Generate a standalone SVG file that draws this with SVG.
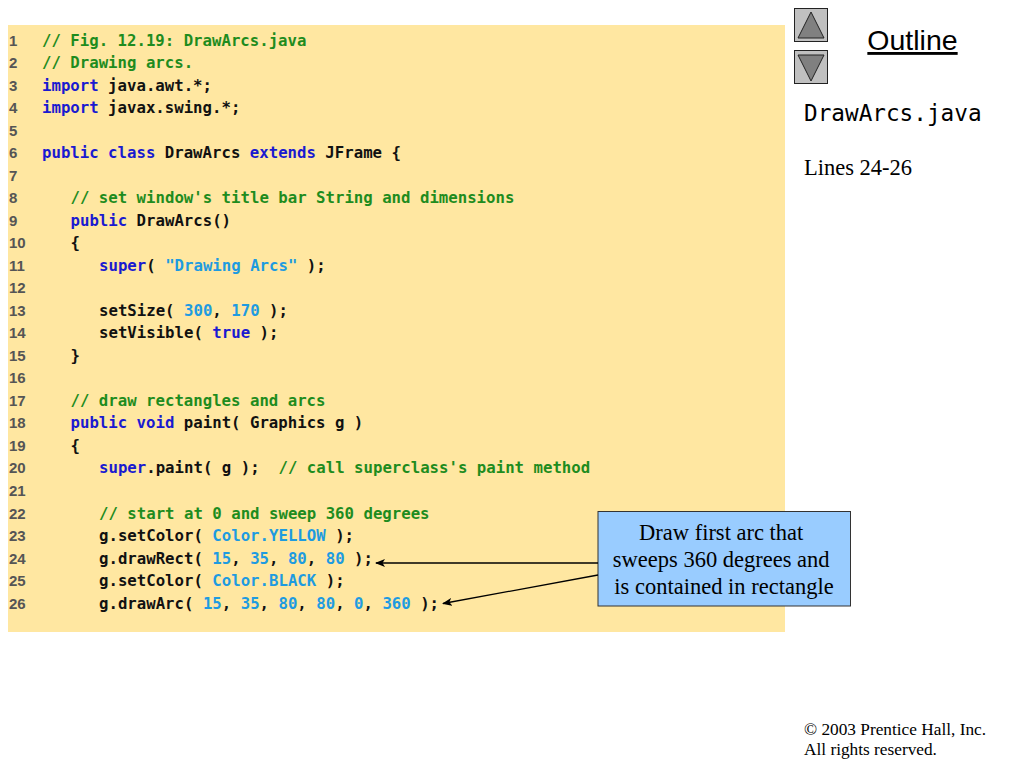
<svg xmlns="http://www.w3.org/2000/svg" width="1024" height="768" viewBox="0 0 1024 768">
<style>
.code{font-family:"DejaVu Sans Mono",monospace;font-size:15.7px;font-weight:bold;fill:#111}
.ln{font-family:"Liberation Sans",Arial,sans-serif;font-size:15px;font-weight:bold;fill:#555}
.c{fill:#1e8c1e}
.k{fill:#1a1ad0}
.n{fill:#1e9be0}
.serif{font-family:"Liberation Serif","Times New Roman",serif;fill:#000}
.btn{fill:#c0c0c0;stroke:#222;stroke-width:1}
.tri{fill:#808080;stroke:#222;stroke-width:1}
.conn{stroke:#000;stroke-width:1.3;fill:none;marker-end:url(#ah)}
</style>
<defs>
<marker id="ah" markerWidth="10" markerHeight="8" refX="9" refY="4" orient="auto" markerUnits="userSpaceOnUse">
<path d="M0,0 L10,4 L0,8 L2.5,4 Z" fill="#000"/>
</marker>
</defs>
<rect width="1024" height="768" fill="#fff"/>
<g id="code-panel">
<rect x="8" y="25" width="777" height="607" fill="#ffe7a1"/>
<g class="ln">
<text x="9" y="45.5">1</text>
<text x="9" y="68">2</text>
<text x="9" y="90.5">3</text>
<text x="9" y="113">4</text>
<text x="9" y="135.6">5</text>
<text x="9" y="158.1">6</text>
<text x="9" y="180.6">7</text>
<text x="9" y="203.1">8</text>
<text x="9" y="225.7">9</text>
<text x="9" y="248.2">10</text>
<text x="9" y="270.7">11</text>
<text x="9" y="293.2">12</text>
<text x="9" y="315.7">13</text>
<text x="9" y="338.3">14</text>
<text x="9" y="360.8">15</text>
<text x="9" y="383.3">16</text>
<text x="9" y="405.8">17</text>
<text x="9" y="428.4">18</text>
<text x="9" y="450.9">19</text>
<text x="9" y="473.4">20</text>
<text x="9" y="495.9">21</text>
<text x="9" y="518.5">22</text>
<text x="9" y="541">23</text>
<text x="9" y="563.5">24</text>
<text x="9" y="586">25</text>
<text x="9" y="608.5">26</text>
</g>
<g class="code">
<text x="42" y="45.5" class="c">// Fig. 12.19: DrawArcs.java</text>
<text x="42" y="68" class="c">// Drawing arcs.</text>
<text x="42" y="90.5"><tspan class="k">import</tspan> java.awt.*;</text>
<text x="42" y="113"><tspan class="k">import</tspan> javax.swing.*;</text>
<text x="42" y="158.1"><tspan class="k">public class</tspan> DrawArcs <tspan class="k">extends</tspan> JFrame {</text>
<text x="70.5" y="203.1" class="c">// set window's title bar String and dimensions</text>
<text x="70.5" y="225.7"><tspan class="k">public</tspan> DrawArcs()</text>
<text x="70.5" y="248.2">{</text>
<text x="99" y="270.7"><tspan class="k">super</tspan>( <tspan class="n">"Drawing Arcs"</tspan> );</text>
<text x="99" y="315.7">setSize( <tspan class="n">300</tspan>, <tspan class="n">170</tspan> );</text>
<text x="99" y="338.3">setVisible( <tspan class="k">true</tspan> );</text>
<text x="70.5" y="360.8">}</text>
<text x="70.5" y="405.8" class="c">// draw rectangles and arcs</text>
<text x="70.5" y="428.4"><tspan class="k">public void</tspan> paint( Graphics g )</text>
<text x="70.5" y="450.9">{</text>
<text x="99" y="473.4"><tspan class="k">super</tspan>.paint( g );<tspan class="c" x="278.5">// call superclass's paint method</tspan></text>
<text x="99" y="518.5" class="c">// start at 0 and sweep 360 degrees</text>
<text x="99" y="541">g.setColor( <tspan class="n">Color.YELLOW</tspan> );</text>
<text x="99" y="563.5">g.drawRect( <tspan class="n">15</tspan>, <tspan class="n">35</tspan>, <tspan class="n">80</tspan>, <tspan class="n">80</tspan> );</text>
<text x="99" y="586">g.setColor( <tspan class="n">Color.BLACK</tspan> );</text>
<text x="99" y="608.5">g.drawArc( <tspan class="n">15</tspan>, <tspan class="n">35</tspan>, <tspan class="n">80</tspan>, <tspan class="n">80</tspan>, <tspan class="n">0</tspan>, <tspan class="n">360</tspan> );</text>
</g>
</g>
<g id="nav-up">
<rect class="btn" x="794.5" y="8.5" width="33" height="33"/>
<polygon class="tri" points="811,12 824,38 798,38"/>
</g>
<g id="nav-down">
<rect class="btn" x="794.5" y="50.5" width="33" height="33"/>
<polygon class="tri" points="798,55 824,55 811,81"/>
</g>
<g id="outline-title">
<text x="912.5" y="50" text-anchor="middle" font-family="Liberation Sans,Arial,sans-serif" font-size="28.5" fill="#000" text-decoration="underline">Outline</text>
</g>
<g id="file-label">
<text x="804" y="121" font-family="DejaVu Sans Mono,monospace" font-size="22.7" fill="#000">DrawArcs.java</text>
</g>
<g id="lines-label">
<text x="804" y="175" class="serif" font-size="22.5">Lines 24-26</text>
</g>
<g id="callout">
<rect x="598" y="511.5" width="252.5" height="94.5" fill="#99ccff" stroke="#333" stroke-width="1"/>
<text class="serif" font-size="22.5" text-anchor="middle">
<tspan x="724" y="539.5">Draw first arc that</tspan>
<tspan x="724" y="566.5">sweeps 360 degrees and</tspan>
<tspan x="724" y="593.5">is contained in rectangle</tspan>
</text>
</g>
<g id="connectors">
<line class="conn" x1="598" y1="563" x2="376" y2="563"/>
<line class="conn" x1="598" y1="575" x2="443" y2="603.5"/>
</g>
<g id="copyright">
<text x="804" y="735" class="serif" font-size="17.3">© 2003 Prentice Hall, Inc.</text>
<text x="804" y="755" class="serif" font-size="17.3">All rights reserved.</text>
</g>
</svg>
